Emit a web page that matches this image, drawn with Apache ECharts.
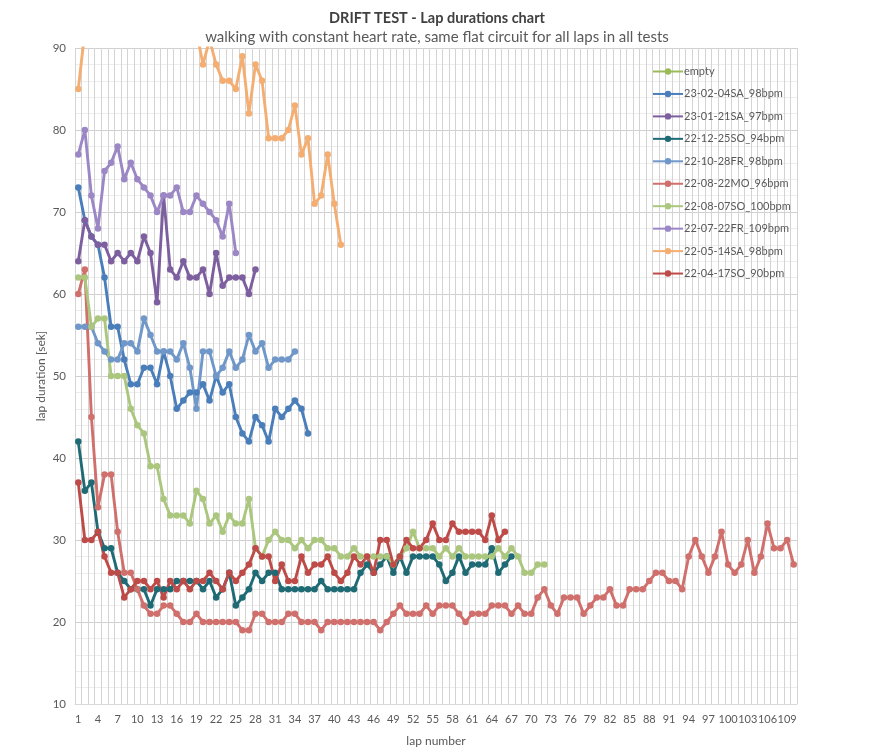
<!DOCTYPE html>
<html>
<head>
<meta charset="utf-8">
<script src="https://cdn.jsdelivr.net/npm/echarts@6/dist/echarts.min.js"></script>
<style>
html,body{margin:0;padding:0;background:#fff;}
#c{width:874px;height:754px;}
</style>
</head>
<body>
<div id="c"></div>
<script>
var laps = [1,2,3,4,5,6,7,8,9,10,11,12,13,14,15,16,17,18,19,20,21,22,23,24,25,26,27,28,29,30,31,32,33,34,35,36,37,38,39,40,41,42,43,44,45,46,47,48,49,50,51,52,53,54,55,56,57,58,59,60,61,62,63,64,65,66,67,68,69,70,71,72,73,74,75,76,77,78,79,80,81,82,83,84,85,86,87,88,89,90,91,92,93,94,95,96,97,98,99,100,101,102,103,104,105,106,107,108,109,110];

var seriesNames = ["empty","23-02-04SA_98bpm","23-01-21SA_97bpm","22-12-25SO_94bpm","22-10-28FR_98bpm","22-08-22MO_96bpm","22-08-07SO_100bpm","22-07-22FR_109bpm","22-05-14SA_98bpm","22-04-17SO_90bpm"];

var sEmpty = [];
var s230204 = [73,69,67,66,62,56,56,52,49,49,51,51,49,53,50,46,47,48,48,49,47,50,48,49,45,43,42,45,44,42,46,45,46,47,46,43];
var s230121 = [64,69,67,66,66,64,65,64,65,64,67,65,59,72,63,62,64,62,62,63,60,65,61,62,62,62,60,63];
var s221225 = [42,36,37,31,29,29,26,25,24,24,24,22,24,24,24,25,25,25,25,24,25,23,24,26,22,23,24,26,25,26,26,24,24,24,24,24,24,25,24,24,24,24,24,26,27,26,27,28,26,28,26,28,28,28,28,27,25,26,28,26,27,27,27,29,26,27,28];
var s221028 = [56,56,56,54,53,52,52,54,54,53,57,55,53,53,53,52,54,51,46,53,53,50,51,53,51,52,55,53,54,51,52,52,52,53];
var s220822 = [60,63,45,34,38,38,31,26,26,24,22,21,21,22,22,21,20,20,21,20,20,20,20,20,20,19,19,21,21,20,20,20,21,21,20,20,20,19,20,20,20,20,20,20,20,20,19,20,21,22,21,21,21,22,21,22,22,22,21,20,21,21,21,22,22,22,21,22,21,21,23,24,22,21,23,23,23,21,22,23,23,24,22,22,24,24,24,25,26,26,25,25,24,28,30,28,26,28,31,27,26,27,30,26,28,32,29,29,30,27];
var s220807 = [62,62,56,57,57,50,50,50,46,44,43,39,39,35,33,33,33,32,36,35,32,33,31,33,32,32,35,29,28,30,31,30,30,29,30,29,30,30,29,29,28,28,29,28,28,28,28,28,27,28,29,31,29,29,29,28,29,28,29,28,28,28,28,28,29,28,29,28,26,26,27,27];
var s220722 = [77,80,72,68,75,76,78,74,76,74,73,72,70,72,72,73,70,70,72,71,70,69,67,71,65];
var s220514 = [85,92,97,99,96,98,101,97,95,96,99,94,96,93,95,97,94,95,92,88,91,88,86,86,85,89,82,88,86,79,79,79,80,83,77,79,71,72,77,71,66];
var s220417 = [37,30,30,31,28,26,26,23,24,25,25,24,25,23,25,24,25,24,25,25,26,25,24,26,25,26,27,29,28,28,25,27,25,25,28,26,27,27,28,26,25,26,28,27,28,26,30,30,27,28,30,29,29,30,32,30,30,32,31,31,31,31,30,33,30,31];

var seriesData = [sEmpty,s230204,s230121,s221225,s221028,s220822,s220807,s220722,s220514,s220417];
var colors = ["#9BBB59","#4A7EBB","#7D5FA0","#1F6B75","#6F97C9","#D06F6B","#ABC77E","#9C87C6","#F5AE72","#BE4B48"];

var chart = echarts.init(document.getElementById('c'), null, {renderer:'canvas'});
var FONT = 'Lato, "Open Sans", sans-serif';
var series = seriesNames.map(function(n,k){
  return {
    name:n, type:'line', data:seriesData[k],
    symbol:'circle', symbolSize:6.5, showSymbol:true, showAllSymbol:true,
    lineStyle:{width:2.9,color:colors[k]},
    itemStyle:{color:colors[k]},
    emphasis:{disabled:true},
    animation:false, clip:true
  };
});
chart.setOption({
  animation:false,
  color:colors,
  textStyle:{fontFamily:FONT},
  title:{
    text:'DRIFT TEST - Lap durations chart',
    subtext:'walking with constant heart rate, same flat circuit for all laps in all tests',
    left:'center', top:6, itemGap:4,
    textStyle:{fontFamily:FONT,fontSize:14.5,fontWeight:'bold',color:'#404040'},
    subtextStyle:{fontFamily:FONT,fontSize:15,color:'#595959'}
  },
  legend:{
    orient:'vertical', left:647, top:61,
    itemWidth:30, itemHeight:8, itemGap:11.45,
    textStyle:{fontFamily:FONT,fontSize:11,color:'#595959',padding:[0,0,0,-4]},
    data:seriesNames
  },
  grid:{left:75,right:77,top:48,bottom:50,containLabel:false},
  xAxis:{
    type:'category', data:laps, boundaryGap:true,
    name:'lap number', nameLocation:'middle', nameGap:31,
    nameTextStyle:{fontFamily:FONT,fontSize:12,color:'#595959'},
    axisLine:{show:true,lineStyle:{color:'#d9d9d9'}},
    axisTick:{show:false},
    axisLabel:{interval:2,margin:10,fontFamily:FONT,fontSize:11,color:'#595959',hideOverlap:false},
    splitLine:{show:true,interval:0,lineStyle:{color:'#d4d4d4',width:1}}
  },
  yAxis:{
    type:'value', min:10, max:90, interval:10,
    name:'lap duration [sek]', nameLocation:'middle', nameGap:28, nameMoveOverlap:false,
    nameTextStyle:{fontFamily:FONT,fontSize:12,color:'#595959'},
    axisLine:{show:false}, axisTick:{show:false},
    axisLabel:{fontFamily:FONT,fontSize:11.5,color:'#595959',margin:9},
    splitLine:{show:true,lineStyle:{color:'#d0d0d0',width:1}},
    minorTick:{show:false,splitNumber:5},
    minorSplitLine:{show:true,lineStyle:{color:'#ededed',width:1}}
  },
  series:series
});
</script>
</body>
</html>
